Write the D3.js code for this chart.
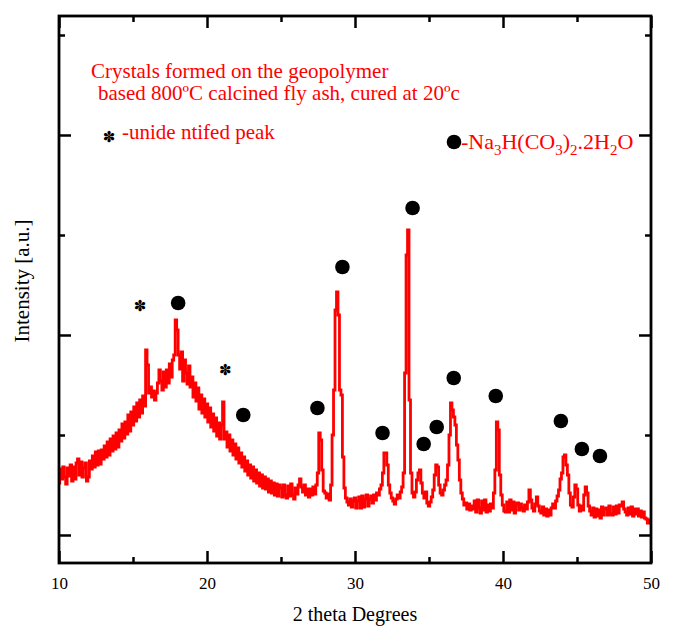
<!DOCTYPE html>
<html>
<head>
<meta charset="utf-8">
<script src="https://cdn.jsdelivr.net/npm/d3@7"></script>
<style>
  body { margin: 0; background: #fff; }
  text { font-family: "Liberation Serif", "Times New Roman", serif; }
</style>
</head>
<body>
<div id="canvas"></div>
<script>
// XRD pattern at 0.1 degree steps (one row per degree, 10..49)
const thetaStart = 10;
const thetaStep = 0.1;
const counts = [
  [520, 660, 560, 680, 580, 510, 670, 590, 700, 540],         // 10
  [680, 560, 720, 760, 600, 730, 580, 670, 720, 540],         // 11
  [580, 740, 660, 790, 680, 830, 700, 840, 710, 850],         // 12
  [760, 890, 780, 930, 800, 960, 840, 990, 860, 1020],        // 13
  [880, 1050, 940, 1110, 970, 1130, 1010, 1200, 1040, 1230],  // 14
  [1100, 1280, 1140, 1320, 1180, 1350, 1220, 1390, 1290, 1850], // 15
  [1700, 1420, 1480, 1380, 1440, 1350, 1420, 1520, 1650, 1540], // 16
  [1450, 1630, 1480, 1650, 1520, 1710, 1580, 1750, 1800, 2150], // 17
  [2050, 1800, 1660, 1830, 1540, 1750, 1620, 1510, 1690, 1480], // 18
  [1580, 1380, 1520, 1340, 1470, 1260, 1400, 1220, 1360, 1180], // 19
  [1310, 1130, 1270, 1080, 1210, 1040, 1170, 990, 1120, 960],   // 20
  [1100, 1330, 960, 1030, 880, 1000, 840, 950, 800, 910],     // 21
  [760, 870, 720, 820, 680, 780, 640, 740, 600, 700],         // 22
  [570, 680, 540, 650, 520, 620, 490, 600, 470, 580],         // 23
  [460, 560, 430, 540, 420, 520, 400, 510, 390, 500],         // 24
  [470, 380, 500, 400, 370, 490, 390, 510, 400, 360],         // 25
  [470, 410, 500, 560, 480, 430, 500, 400, 460, 380],         // 26
  [460, 400, 480, 410, 500, 620, 1020, 950, 650, 440],        // 27
  [420, 370, 410, 350, 500, 1000, 1450, 2250, 2430, 2200],    // 28
  [1450, 1400, 780, 470, 370, 330, 300, 360, 280, 340],       // 29
  [370, 270, 340, 380, 270, 390, 280, 360, 400, 290],         // 30
  [360, 390, 320, 400, 350, 420, 400, 460, 500, 620],         // 31
  [820, 820, 700, 500, 420, 370, 340, 310, 360, 400],         // 32
  [370, 430, 480, 620, 1620, 2800, 3050, 1350, 620, 420],     // 33
  [380, 430, 550, 620, 650, 520, 420, 370, 430, 320],         // 34
  [290, 330, 380, 450, 600, 700, 680, 500, 420, 400],         // 35
  [450, 500, 550, 700, 1000, 1320, 1250, 1180, 1100, 900],    // 36
  [750, 550, 420, 360, 300, 320, 260, 310, 250, 290],         // 37
  [260, 340, 230, 350, 270, 220, 340, 250, 350, 230],         // 38
  [300, 240, 310, 270, 420, 650, 1130, 1050, 600, 400],       // 39
  [300, 240, 230, 330, 230, 350, 250, 330, 220, 310],         // 40
  [320, 250, 310, 270, 240, 300, 260, 330, 450, 350],         // 41
  [270, 240, 310, 380, 290, 240, 220, 280, 200, 260],         // 42
  [190, 250, 200, 270, 310, 270, 340, 390, 450, 560],         // 43
  [620, 780, 800, 700, 600, 420, 300, 280, 380, 500],         // 44
  [460, 300, 240, 290, 250, 400, 480, 420, 290, 240],         // 45
  [200, 270, 180, 260, 190, 250, 170, 280, 200, 260],         // 46
  [270, 200, 290, 210, 200, 280, 210, 290, 220, 300],         // 47
  [290, 330, 260, 230, 200, 270, 210, 280, 190, 260],         // 48
  [210, 260, 190, 240, 180, 230, 170, 160, 120, 150]          // 49
];
const lastCount = 120; // at 50 degrees

// Na3H(CO3)2.2H2O markers [2theta, height]
const dotTheta = [18.05, 22.45, 27.46, 29.15, 31.86, 33.89, 34.64, 35.52, 36.67, 39.51, 43.91, 45.33, 46.55];
const dotHeight = [2320, 1200, 1270, 2680, 1020, 3270, 910, 1080, 1570, 1390, 1140, 860, 790];
// unidentified peak markers
const starTheta = [15.48, 21.24];
const starHeight = [2290, 1650];

const xMajor = [10, 20, 30, 40, 50];
const xMinor = [15, 25, 35, 45];
const yMajor = [0, 2000, 4000];
const yMinor = [1000, 3000, 5000];

const width = 675;
const height = 626;
const margin = { top: 16, right: 24, bottom: 63, left: 59 };

const svg = d3.select("#canvas").append("svg")
  .attr("width", width)
  .attr("height", height);

const x = d3.scaleLinear().domain([10, 50]).range([margin.left, width - margin.right]);
const y = d3.scaleLinear().domain([-280, 5190]).range([height - margin.bottom, margin.top]);

// flatten the rows into points
const pattern = [];
counts.forEach((row, i) => {
  row.forEach((c, j) => pattern.push([thetaStart + i + j * thetaStep, c]));
});
pattern.push([50, lastCount]);

const line = d3.line()
  .x(d => x(d[0]))
  .y(d => y(d[1]))
  .curve(d3.curveStep);

svg.append("path")
  .datum(pattern)
  .attr("fill", "none")
  .attr("stroke", "#ff0000")
  .attr("stroke-width", 2.8)
  .attr("d", line);

// axes: ticks pointing inward on all four sides
const x0 = x.range()[0], x1 = x.range()[1];
const y0 = y.range()[0], y1 = y.range()[1];

function ticks(axis, tr) {
  const g = svg.append("g").attr("transform", tr).call(axis);
  g.select(".domain").remove();
  g.selectAll(".tick line").attr("stroke", "#000").attr("stroke-width", 2.5);
  return g;
}

const bottom = ticks(d3.axisBottom(x).tickValues(xMajor).tickSize(-12).tickPadding(14)
  .tickFormat(d3.format("d")), `translate(0,${y0})`);
bottom.selectAll("text")
  .attr("fill", "#000")
  .style("font-size", "17px")
  .style("font-family", "Liberation Serif");
ticks(d3.axisBottom(x).tickValues(xMinor).tickSize(-6).tickFormat(""), `translate(0,${y0})`);
ticks(d3.axisTop(x).tickValues(xMajor).tickSize(-12).tickFormat(""), `translate(0,${y1})`);
ticks(d3.axisTop(x).tickValues(xMinor).tickSize(-6).tickFormat(""), `translate(0,${y1})`);
ticks(d3.axisLeft(y).tickValues(yMajor).tickSize(-12).tickFormat(""), `translate(${x0},0)`);
ticks(d3.axisLeft(y).tickValues(yMinor).tickSize(-6).tickFormat(""), `translate(${x0},0)`);
ticks(d3.axisRight(y).tickValues(yMajor).tickSize(-12).tickFormat(""), `translate(${x1},0)`);
ticks(d3.axisRight(y).tickValues(yMinor).tickSize(-6).tickFormat(""), `translate(${x1},0)`);

svg.append("rect")
  .attr("x", x0).attr("y", y1)
  .attr("width", x1 - x0).attr("height", y0 - y1)
  .attr("fill", "none")
  .attr("stroke", "#000")
  .attr("stroke-width", 2.8);

// markers
svg.selectAll("circle.dot")
  .data(dotTheta)
  .join("circle")
  .attr("class", "dot")
  .attr("cx", d => x(d))
  .attr("cy", (d, i) => y(dotHeight[i]))
  .attr("r", 7.3)
  .attr("fill", "#000");

svg.selectAll("text.star")
  .data(starTheta)
  .join("text")
  .attr("class", "star")
  .attr("x", d => x(d))
  .attr("y", (d, i) => y(starHeight[i]))
  .attr("dy", "0.35em")
  .attr("text-anchor", "middle")
  .style("font-family", "DejaVu Sans")
  .style("font-size", "15px")
  .text("\u273D");

// annotations
const red = "#ff0000";
svg.append("text").attr("x", 91).attr("y", 78)
  .attr("fill", red).style("font-size", "21px")
  .text("Crystals formed on the geopolymer");
svg.append("text").attr("x", 98).attr("y", 100)
  .attr("fill", red).style("font-size", "21px")
  .text("based 800\u00BAC calcined fly ash, cured at 20\u00BAc");

svg.append("text").attr("x", 109).attr("y", 137).attr("dy", "0.35em")
  .attr("text-anchor", "middle")
  .style("font-family", "DejaVu Sans").style("font-size", "15px")
  .text("\u273D");
svg.append("text").attr("x", 122).attr("y", 139)
  .attr("fill", red).style("font-size", "21px")
  .text("-unide ntifed peak");

svg.append("circle").attr("cx", 454).attr("cy", 142).attr("r", 7.3).attr("fill", "#000");
const formula = svg.append("text").attr("x", 461).attr("y", 149)
  .attr("fill", red).style("font-size", "22px");
const parts = [["-Na", 0], ["3", 1], ["H(CO", 0], ["3", 1], [")", 0], ["2", 1], [".2H", 0], ["2", 1], ["O", 0]];
let prev = 0;
parts.forEach(([t, sub]) => {
  formula.append("tspan")
    .attr("dy", (sub - prev) * 6)
    .style("font-size", sub ? "15px" : "22px")
    .text(t);
  prev = sub;
});

// axis titles
svg.append("text")
  .attr("x", (x0 + x1) / 2).attr("y", 621)
  .attr("text-anchor", "middle")
  .style("font-size", "20px")
  .text("2 theta Degrees");
svg.append("text")
  .attr("transform", "translate(29,281) rotate(-90)")
  .attr("text-anchor", "middle")
  .style("font-size", "21px")
  .text("Intensity [a.u.]");
</script>
</body>
</html>
